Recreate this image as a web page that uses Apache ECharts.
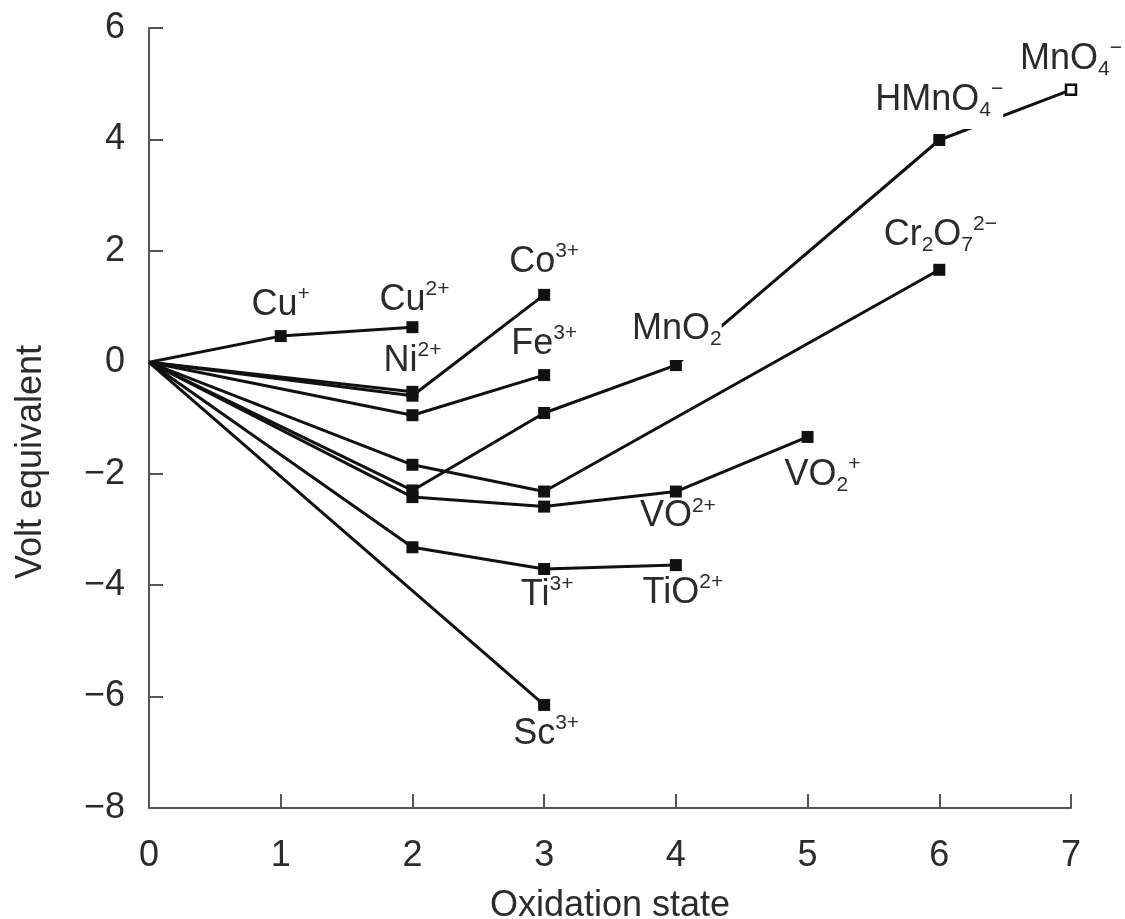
<!DOCTYPE html>
<html>
<head>
<meta charset="utf-8">
<title>Frost diagram</title>
<script src="https://cdn.jsdelivr.net/npm/echarts@6/dist/echarts.min.js"></script>
<style>
    html, body { margin: 0; padding: 0; background: #fff; }
    #main { width: 1125px; height: 919px; }
</style>
</head>
<body>
<div id="main"></div>
<script>
    // oxidation state / volt equivalent
    var cuOx = [0, 1, 2],          cuVolt = [0, 0.47, 0.63];
    var niOx = [0, 2],             niVolt = [0, -0.53];
    var coOx = [0, 2, 3],          coVolt = [0, -0.6, 1.21];
    var feOx = [0, 2, 3],          feVolt = [0, -0.95, -0.23];
    var mnOx = [0, 2, 3, 4, 6, 7], mnVolt = [0, -2.3, -0.91, -0.05, 3.99, 4.89];
    var crOx = [0, 2, 3, 6],       crVolt = [0, -1.84, -2.32, 1.66];
    var vOx  = [0, 2, 3, 4, 5],    vVolt  = [0, -2.42, -2.59, -2.32, -1.34];
    var tiOx = [0, 2, 3, 4],       tiVolt = [0, -3.32, -3.71, -3.64];
    var scOx = [0, 3],             scVolt = [0, -6.15];

    // species names (rich text: sup / sub)
    var cuNames = [null, 'Cu{sup|+}', 'Cu{sup|2+}'];
    var niNames = [null, 'Ni{sup|2+}'];
    var coNames = [null, null, 'Co{sup|3+}'];
    var feNames = [null, null, 'Fe{sup|3+}'];
    var mnNames = [null, null, null, 'MnO{sub|2}', 'HMnO{sub|4}{sup|\u2212}', 'MnO{sub|4}{sup|\u2212}'];
    var crNames = [null, null, null, 'Cr{sub|2}O{sub|7}{sup|2\u2212}'];
    var vNames  = [null, null, null, 'VO{sup|2+}', 'VO{sub|2}{sup|+}'];
    var tiNames = [null, null, 'Ti{sup|3+}', 'TiO{sup|2+}'];
    var scNames = [null, 'Sc{sup|3+}'];

    var xMin = 0, xMax = 7, xStep = 1;
    var yMin = -8, yMax = 6, yStep = 2;

    // where each name sits relative to its point
    var labelPlace = {
        'Cu{sup|+}': [0, -31],
        'Cu{sup|2+}': [2, -27],
        'Ni{sup|2+}': [0, -31],
        'Co{sup|3+}': [0, -33],
        'Fe{sup|3+}': [0, -31],
        'MnO{sub|2}': [1, -31],
        'HMnO{sub|4}{sup|\u2212}': [0, -36],
        'MnO{sub|4}{sup|\u2212}': [0, -31],
        'Cr{sub|2}O{sub|7}{sup|2\u2212}': [1, -35],
        'VO{sup|2+}': [2, 25],
        'VO{sub|2}{sup|+}': [15, 38],
        'Ti{sup|3+}': [3, 26],
        'TiO{sup|2+}': [7, 28],
        'Sc{sup|3+}': [2, 29]
    };
    // labels that break the line under them
    var masked = {'MnO{sub|2}': [0, 0, 10, 0], 'HMnO{sub|4}{sup|\u2212}': [0, 0, 8, 0]};

    var txt = '#2b2b2b';
    var font = '"Liberation Sans", Arial, sans-serif';
    var rich = {
        sup: {fontSize: 21, verticalAlign: 'top', color: txt, fontFamily: font},
        sub: {fontSize: 21, verticalAlign: 'bottom', color: txt, fontFamily: font}
    };

    function makeSeries(name, ox, volt, names) {
        return {
            type: 'line',
            name: name,
            symbol: 'rect',
            symbolSize: 12,
            lineStyle: {color: '#111', width: 3},
            itemStyle: {color: '#111'},
            emphasis: {disabled: true},
            animation: false,
            data: ox.map(function (x, i) {
                var item = {value: [x, volt[i]]};
                if (i === 0) item.symbol = 'none';
                if (name === 'Mn' && i === ox.length - 1) {
                    item.symbolSize = 10;
                    item.itemStyle = {color: '#fff', borderColor: '#111', borderWidth: 2.5};
                }
                var n = names[i];
                if (n) {
                    item.label = {
                        show: true,
                        position: 'inside',
                        align: 'center',
                        verticalAlign: 'middle',
                        formatter: n,
                        offset: labelPlace[n],
                        color: txt,
                        fontSize: 36,
                        lineHeight: 42,
                        fontFamily: font,
                        backgroundColor: masked[n] ? '#fff' : 'transparent',
                        padding: masked[n] || 0,
                        rich: rich
                    };
                }
                return item;
            })
        };
    }

    var option = {
        backgroundColor: '#fff',
        grid: {left: 149, right: 54, top: 28, bottom: 111, outerBoundsMode: 'none', containLabel: false},
        xAxis: {
            type: 'value',
            min: xMin, max: xMax, interval: xStep,
            name: 'Oxidation state',
            nameLocation: 'middle',
            nameGap: 80,
            nameTextStyle: {fontSize: 36, color: txt, fontFamily: font},
            axisLine: {onZero: false, lineStyle: {color: '#555', width: 2}},
            axisTick: {inside: true, length: 14, lineStyle: {color: '#555', width: 2}},
            axisLabel: {fontSize: 36, color: txt, fontFamily: font, margin: 30},
            splitLine: {show: false}
        },
        yAxis: {
            type: 'value',
            min: yMin, max: yMax, interval: yStep,
            name: 'Volt equivalent',
            nameLocation: 'middle',
            nameGap: 100,
            nameTextStyle: {fontSize: 36, color: txt, fontFamily: font, padding: [0, 88, 0, 0]},
            axisLine: {show: true, lineStyle: {color: '#555', width: 2}},
            axisTick: {show: true, inside: true, length: 14, lineStyle: {color: '#555', width: 2}},
            axisLabel: {
                fontSize: 36, color: txt, fontFamily: font, margin: 24,
                formatter: function (v) { return v < 0 ? '\u2212' + Math.abs(v) : String(v); }
            },
            splitLine: {show: false}
        },
        series: [
            makeSeries('Sc', scOx, scVolt, scNames),
            makeSeries('Ti', tiOx, tiVolt, tiNames),
            makeSeries('V', vOx, vVolt, vNames),
            makeSeries('Cr', crOx, crVolt, crNames),
            makeSeries('Fe', feOx, feVolt, feNames),
            makeSeries('Co', coOx, coVolt, coNames),
            makeSeries('Ni', niOx, niVolt, niNames),
            makeSeries('Cu', cuOx, cuVolt, cuNames),
            makeSeries('Mn', mnOx, mnVolt, mnNames)
        ]
    };

    var myChart = echarts.init(document.getElementById('main'));
    myChart.setOption(option);
</script>
</body>
</html>
